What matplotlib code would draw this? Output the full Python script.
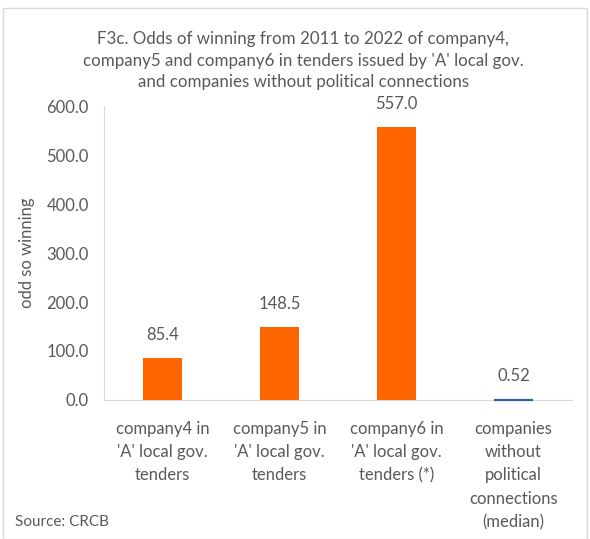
import matplotlib.pyplot as plt
from matplotlib.patches import Rectangle

categorias = ["company4 in\n'A' local gov.\ntenders",
              "company5 in\n'A' local gov.\ntenders",
              "company6 in\n'A' local gov.\ntenders (*)",
              "companies\nwithout\npolitical\nconnections\n(median)"]
valores = [85.4, 148.5, 557.0, 0.52]
etiquetas = ["85.4", "148.5", "557.0", "0.52"]
colores = ["#FF6600", "#FF6600", "#FF6600", "#4472C4"]
yticks = [0, 100, 200, 300, 400, 500, 600]

gris = "#595959"
plt.rcParams['font.family'] = ['Lato', 'DejaVu Sans']

fig = plt.figure(figsize=(5.9, 5.39), dpi=100)
ax = fig.add_axes([0.1763, 0.2579, 0.7932, 0.5454])

x = range(len(valores))
barras = ax.bar(x, valores, width=0.33, color=colores, zorder=3)
# la ultima barra casi no se ve, Excel le deja un borde fino
barras[3].set_edgecolor('#3A5F9E')
barras[3].set_linewidth(1.6)
barras[3].set_clip_on(False)
for i, v in enumerate(valores):
    ax.annotate(etiquetas[i], (i, v), xytext=(0, 11), textcoords='offset points',
                ha='center', va='bottom', fontsize=12, color=gris)

ax.set_xlim(-0.5, 3.5)
ax.set_ylim(0, 600)
ax.set_yticks(yticks)
ax.set_yticklabels([f"{t:.1f}" for t in yticks], fontsize=12, color=gris)
ax.set_xticks(list(x))
ax.set_xticklabels(categorias, fontsize=12, color=gris, linespacing=1.56)
ax.tick_params(length=0)
ax.tick_params(axis='y', pad=11)
ax.tick_params(axis='x', pad=15)
ax.set_ylabel('odd so winning', fontsize=12, color=gris, labelpad=8)

for lado in ['top', 'right']:
    ax.spines[lado].set_visible(False)
ax.spines['left'].set_color('#D9D9D9')
ax.spines['bottom'].set_color('#D9D9D9')

fig.text(0.514, 0.943, "F3c. Odds of winning from 2011 to 2022 of company4,\n"
         "company5 and company6 in tenders issued by 'A' local gov.\n"
         "and companies without political connections",
         ha='center', va='top', fontsize=12.2, color=gris, linespacing=1.45)
fig.text(0.026, 0.025, "Source: CRCB", fontsize=11, color=gris)

fig.patches.append(Rectangle((0.005, 0.0), 0.99, 0.985, transform=fig.transFigure,
                             fill=False, edgecolor='#D9D9D9', linewidth=1))
fig.savefig('out.png', dpi=100)
